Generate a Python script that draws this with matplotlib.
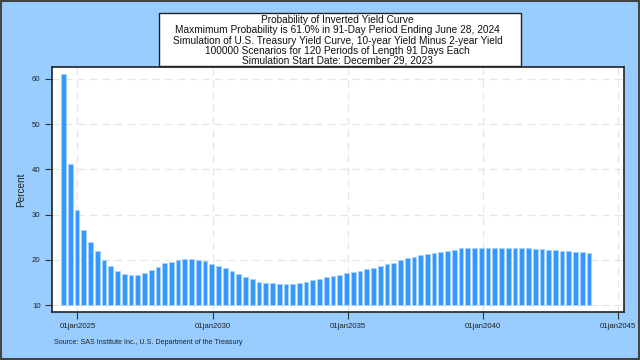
import numpy as np
import pandas as pd
import matplotlib
matplotlib.use("Agg")
import matplotlib.pyplot as plt

# probability (%) of an inverted curve for each 91-day period, periods 2..80
prob = [61.0, 41.1, 31.1, 26.5, 24.0, 22.0, 20.0, 18.6, 17.5, 16.9,
        16.6, 16.6, 17.1, 17.7, 18.5, 19.3, 19.6, 20.0, 20.1, 20.2,
        20.0, 19.7, 19.1, 18.6, 18.1, 17.5, 16.8, 16.2, 15.75, 15.1,
        14.95, 14.8, 14.7, 14.65, 14.7, 14.95, 15.15, 15.45, 15.8, 16.1,
        16.4, 16.7, 17.0, 17.3, 17.6, 17.95, 18.25, 18.7, 19.0, 19.4,
        19.9, 20.3, 20.7, 21.05, 21.35, 21.6, 21.8, 22.0, 22.25, 22.5,
        22.5, 22.55, 22.55, 22.6, 22.6, 22.7, 22.7, 22.55, 22.5, 22.5,
        22.4, 22.3, 22.2, 22.1, 22.0, 21.9, 21.8, 21.65, 21.5]

sim_start = pd.Timestamp("2023-12-29")
period_days = 91
first_period = 2
period_end = [sim_start + pd.Timedelta(days=period_days * (first_period + i))
              for i in range(len(prob))]

tick_years = [2025, 2030, 2035, 2040, 2045]
tick_labels = ["01jan%d" % y for y in tick_years]
y_ticks = [10, 20, 30, 40, 50, 60]

title_lines = [
    "Probability of Inverted Yield Curve",
    "Maxmimum Probability is 61.0% in 91-Day Period Ending June 28, 2024",
    "Simulation of U.S. Treasury Yield Curve, 10-year Yield Minus 2-year Yield",
    "100000 Scenarios for 120 Periods of Length 91 Days Each",
    "Simulation Start Date: December 29, 2023",
]
source = "Source: SAS Institute Inc., U.S. Department of the Treasury"

plt.rcParams['font.family'] = ['Liberation Sans', 'DejaVu Sans']

bg = '#99ccff'
fig = plt.figure(figsize=(6.4, 3.6), dpi=100, facecolor=bg)
ax = fig.add_axes([0.0808, 0.1333, 0.8942, 0.6806])
ax.set_facecolor('white')

base = 10
heights = np.array(prob) - base
ax.bar(period_end, heights, bottom=base, width=64, color='#3399ff',
       edgecolor='#a8d2ff', linewidth=0.6, zorder=3)

ax.set_xlim(pd.Timestamp("2024-01-20"), pd.Timestamp("2045-03-20"))
ax.set_ylim(8.45, 62.65)
ticks = [pd.Timestamp("%d-01-01" % y) for y in tick_years]
ax.set_xticks(ticks)
ax.set_xticklabels(tick_labels)
ax.set_yticks(y_ticks)
ax.tick_params(axis='both', labelsize=5.6, direction='out', length=5, width=0.8,
               color='#333333', labelcolor='#222222', pad=3)
ax.grid(True, linestyle=(0, (6, 4)), color='#e6e6e6', linewidth=0.9, zorder=0)
for s in ax.spines.values():
    s.set_color('#222222')
    s.set_linewidth(1.2)
ax.set_ylabel("Percent", fontsize=7.2, color='#222222')
ax.yaxis.set_label_coords(-0.044, 0.5)

# title box
box = plt.Rectangle((159 / 640, 1 - 65.5 / 360), 361.5 / 640, 52.2 / 360,
                    transform=fig.transFigure, facecolor='white',
                    edgecolor='#222222', linewidth=1.0, zorder=5)
fig.patches.append(box)
fig.text(337.5 / 640, 1 - 40.5 / 360, "\n".join(title_lines), ha='center',
         va='center', fontsize=7.25, linespacing=1.02, color='#111111', zorder=6)
fig.text(0.084, 1 - 342 / 360, source, fontsize=5.15, color='#222222',
         ha='left', va='center')

border = plt.Rectangle((0.0015, 0.0025), 0.997, 0.995, transform=fig.transFigure,
                       fill=False, edgecolor='#444444', linewidth=1.5)
fig.patches.append(border)

fig.savefig("out.png", dpi=100, facecolor=bg)
